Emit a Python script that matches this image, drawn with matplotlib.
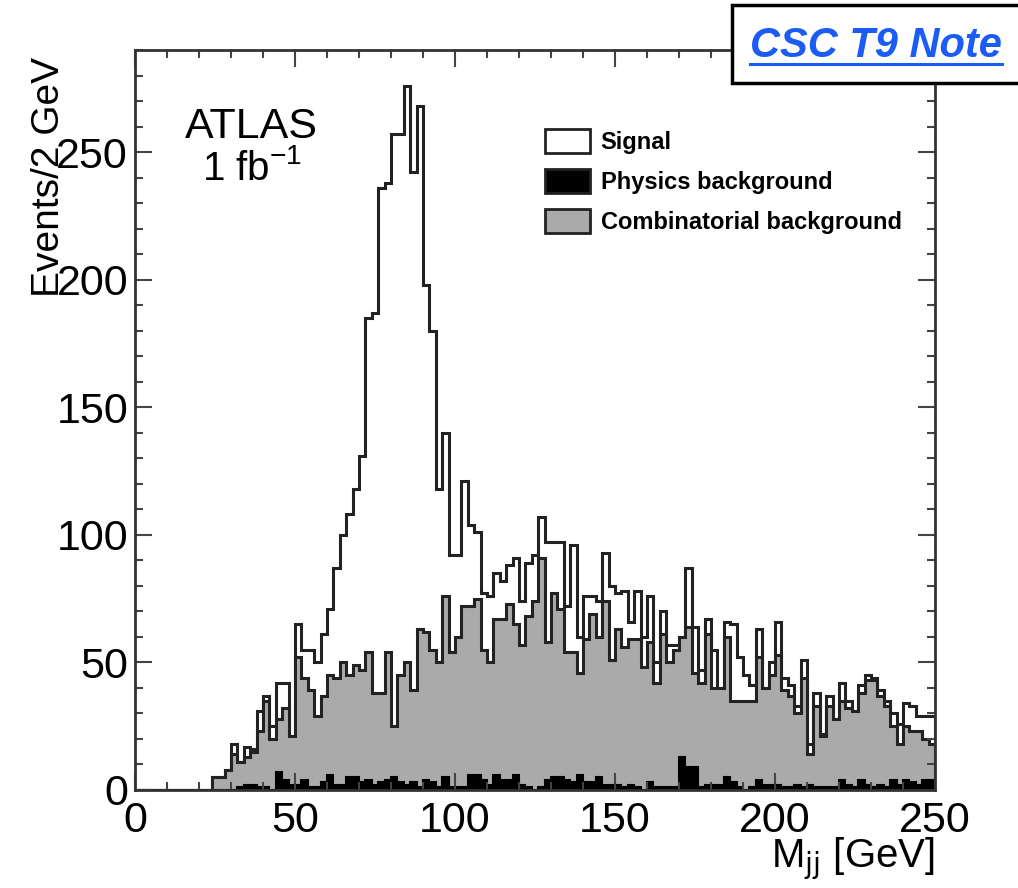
import matplotlib
matplotlib.use('Agg')
import matplotlib.pyplot as plt
import numpy as np
from matplotlib.patches import Rectangle
from matplotlib.lines import Line2D

plt.rcParams.update({
    'font.family': ['Liberation Sans', 'DejaVu Sans'],
    'mathtext.default': 'regular',
})

# 2 GeV bins from 0 to 250 GeV
bin_edges = np.arange(0, 252, 2)

# stacked heights as drawn: signal+bkg (total), combinatorial+physics, physics only
total_counts = [0] * 12 + [
    5, 5, 8, 18, 11, 17, 16, 31, 37, 25, 42, 42, 21,
    65, 55, 55, 50, 61, 71, 87, 100, 108, 118,
    131, 185, 187, 236, 238, 257, 257, 276, 242, 268,
    198, 180, 118, 140, 92, 92, 121, 104, 101, 77,
    76, 85, 82, 88, 91, 74, 89, 92, 107, 97,
    97, 97, 72, 96, 60, 76, 76, 74, 93, 80,
    77, 78, 66, 78, 60, 76, 50, 70, 57, 57,
    60, 87, 64, 47, 67, 55, 40, 66, 65, 52,
    45, 41, 63, 40, 50, 66, 44, 41, 33, 51,
    18, 38, 22, 37, 28, 42, 35, 31, 41, 45,
    44, 39, 35, 30, 26, 34, 33, 29, 29, 29]

bkg_counts = [0] * 12 + [
    5, 5, 8, 14, 11, 13, 15, 23, 35, 20, 28, 32, 21,
    52, 44, 39, 29, 37, 45, 44, 50, 45, 49,
    47, 54, 38, 38, 54, 25, 45, 50, 39, 63,
    62, 55, 50, 76, 54, 60, 72, 72, 75, 55,
    50, 67, 67, 73, 65, 57, 68, 74, 91, 58,
    77, 71, 54, 54, 46, 59, 69, 60, 74, 51,
    63, 56, 59, 59, 48, 58, 42, 61, 50, 55,
    60, 64, 46, 42, 61, 40, 40, 60, 35, 35,
    35, 35, 52, 40, 45, 53, 39, 37, 30, 44,
    14, 33, 21, 33, 28, 35, 32, 31, 38, 43,
    43, 37, 33, 25, 18, 25, 23, 23, 20, 18]

phys_counts = [0] * 12 + [
    0, 0, 0, 0, 1, 2, 2, 1, 1, 0, 7, 4, 2,
    2, 4, 1, 1, 3, 6, 2, 2, 5, 5,
    3, 4, 2, 3, 4, 5, 3, 2, 3, 1,
    4, 3, 1, 5, 1, 1, 1, 6, 6, 4,
    2, 6, 4, 4, 6, 2, 1, 0, 1, 4,
    5, 5, 4, 3, 6, 3, 3, 5, 2, 2,
    2, 1, 2, 1, 0, 3, 1, 1, 1, 1,
    13, 9, 9, 1, 2, 2, 2, 5, 3, 1,
    0, 1, 4, 2, 2, 2, 1, 1, 2, 1,
    2, 1, 1, 1, 1, 4, 2, 1, 4, 2,
    1, 2, 1, 4, 2, 4, 3, 2, 4, 4]

grey = '#aaaaaa'
line_col = '#222222'

fig = plt.figure(figsize=(10.18, 8.88), dpi=100)
ax = fig.add_axes([0.1326, 0.1104, 0.7859, 0.8333])

ax.stairs(total_counts, bin_edges, fill=True, facecolor='white',
          edgecolor=line_col, linewidth=2.2, baseline=0)
ax.stairs(bkg_counts, bin_edges, fill=True, facecolor=grey,
          edgecolor=line_col, linewidth=2.2, baseline=0)
ax.stairs(phys_counts, bin_edges, fill=True, facecolor='black',
          edgecolor='black', linewidth=1.5, baseline=0)

ax.set_xlim(0, 250)
ax.set_ylim(0, 290)
ax.set_xticks(np.arange(0, 251, 50))
ax.set_xticks(np.arange(0, 251, 10), minor=True)
ax.set_yticks(np.arange(0, 251, 50))
ax.set_yticks(np.arange(0, 291, 10), minor=True)
ax.tick_params(which='both', direction='in', top=True, right=True,
               color='#444444', width=1.5)
ax.tick_params(which='major', length=12, labelsize=31)
ax.tick_params(which='minor', length=6)
ax.tick_params(axis='x', pad=8)
ax.tick_params(axis='y', pad=5)
for sp in ax.spines.values():
    sp.set_linewidth(2.0)
    sp.set_color('#333333')

# ROOT style: y title sits over the tick labels at the top
ax.set_ylabel('Events/2 GeV', fontsize=28, loc='top')
ax.yaxis.set_label_coords(-0.085, 0.99)
ax.set_xlabel(r'M$_{\rm jj}$ [GeV]', fontsize=29, loc='right')
ax.xaxis.set_label_coords(1.0, -0.062)
ax.xaxis.label.set_va('top')

ax.text(0.146, 0.896, 'ATLAS', transform=ax.transAxes, fontsize=31,
        ha='center', va='center')
ax.text(0.146, 0.84, r'1 fb$^{-1}$', transform=ax.transAxes, fontsize=29,
        ha='center', va='center')

handles = [
    Rectangle((0, 0), 1, 1, facecolor='white', edgecolor=line_col, linewidth=2),
    Rectangle((0, 0), 1, 1, facecolor='black', edgecolor=line_col, linewidth=2),
    Rectangle((0, 0), 1, 1, facecolor=grey, edgecolor=line_col, linewidth=2),
]
labels = ['Signal', 'Physics background', 'Combinatorial background']
ax.legend(handles, labels, loc='upper left', bbox_to_anchor=(0.495, 0.912),
          frameon=False, prop={'size': 17, 'weight': 'bold'},
          handlelength=1.9, handleheight=1.2, handletextpad=0.45,
          labelspacing=0.62, borderaxespad=0.2)

# note box in the top right corner
box = Rectangle((732 / 1018, 1 - 83 / 888), 0.4, 78 / 888,
                transform=fig.transFigure, facecolor='white',
                edgecolor='black', linewidth=2.5, zorder=5)
fig.add_artist(box)
note = fig.text(876 / 1018, 1 - 46 / 888, 'CSC T9 Note', fontsize=30,
                fontweight='bold', fontstyle='italic', color='#1a5cf5',
                ha='center', va='center', zorder=6)
fig.canvas.draw()
bb = note.get_window_extent().transformed(fig.transFigure.inverted())
fig.add_artist(Line2D([bb.x0, bb.x1], [bb.y0 + 0.002, bb.y0 + 0.002],
                      transform=fig.transFigure, color='#1a5cf5',
                      linewidth=2.2, zorder=6))

fig.savefig('out.png', dpi=100)
